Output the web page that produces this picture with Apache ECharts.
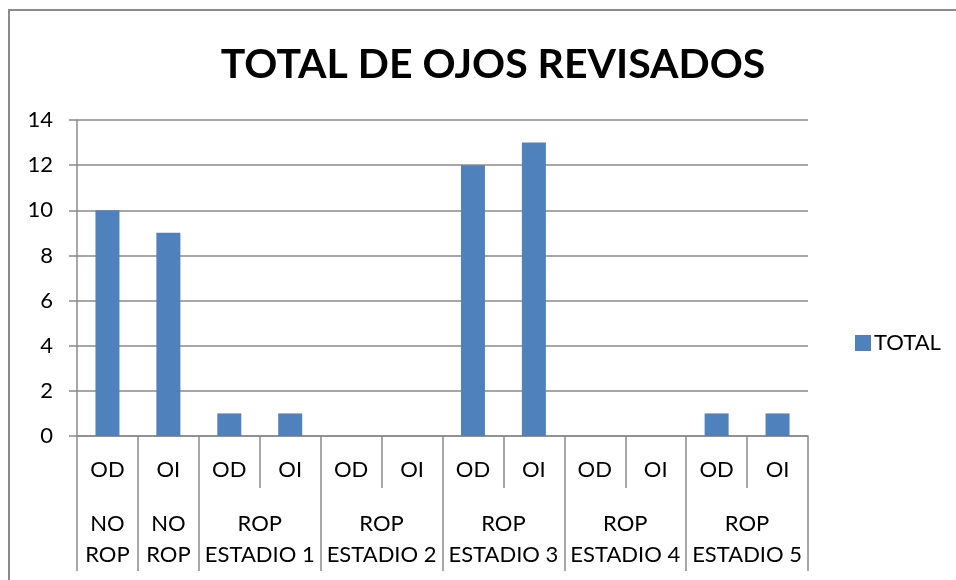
<!DOCTYPE html>
<html>
<head>
<meta charset="utf-8">
<title>TOTAL DE OJOS REVISADOS</title>
<script src="https://cdn.jsdelivr.net/npm/echarts@6/dist/echarts.min.js"></script>
<style>
    html, body { margin: 0; padding: 0; background: #fff; }
    #frame { position: absolute; left: 8px; top: 9px; width: 970px; height: 600px; border: 2px solid #8a8a8a; box-sizing: border-box; }
    #chart { position: absolute; left: 0; top: 0; width: 956px; height: 580px; }
</style>
</head>
<body>
<div id="frame"></div>
<div id="chart"></div>
<script>
// primer nivel del eje: ojo derecho / izquierdo
var eyeLabels = ['OD', 'OI', 'OD', 'OI', 'OD', 'OI', 'OD', 'OI', 'OD', 'OI', 'OD', 'OI'];
// segundo nivel del eje y cuantas columnas abarca cada grupo
var groupLabels = ['NO\nROP', 'NO\nROP', 'ROP\nESTADIO 1', 'ROP\nESTADIO 2', 'ROP\nESTADIO 3', 'ROP\nESTADIO 4', 'ROP\nESTADIO 5'];
var groupSpans = [1, 1, 2, 2, 2, 2, 2];
var totals = [10, 9, 1, 1, 0, 0, 12, 13, 0, 0, 1, 1];
var yMin = 0, yMax = 14, yStep = 2;

var gray = '#8a8a8a';
var font = 'Lato, "Open Sans", sans-serif';

// eje auxiliar en medias columnas para centrar los grupos
var halfSlots = [];
for (var i = 0; i <= eyeLabels.length * 2; i++) halfSlots.push('');
var groupEdges = {};
var pos = 0;
groupLabels.forEach(function (g, k) {
    groupEdges[pos * 2] = true;
    halfSlots[pos * 2 + groupSpans[k]] = g;
    pos += groupSpans[k];
});
groupEdges[pos * 2] = true;

var chart = echarts.init(document.getElementById('chart'));
window.addEventListener('resize', chart.resize);

chart.setOption({
    animation: false,
    title: {
        text: 'TOTAL DE OJOS REVISADOS',
        left: 488,
        textAlign: 'center',
        top: 39,
        textStyle: { fontFamily: font, fontWeight: 'bold', fontSize: 41, color: '#000' }
    },
    legend: {
        data: ['TOTAL'],
        orient: 'vertical',
        left: 850,
        top: 327,
        icon: 'rect',
        itemWidth: 16,
        itemHeight: 16,
        itemGap: 6,
        textStyle: { fontFamily: font, fontSize: 22, color: '#000', padding: [0, 0, 0, -2] }
    },
    grid: { left: 77, right: 148, top: 120, bottom: 144, containLabel: false },
    xAxis: [
        {
            type: 'category',
            data: eyeLabels,
            position: 'bottom',
            axisLine: { show: true, lineStyle: { color: gray, width: 1.5 } },
            axisTick: { show: true, interval: 0, length: 52, lineStyle: { color: gray, width: 1.5 } },
            axisLabel: { interval: 0, margin: 23, fontFamily: font, fontSize: 22, color: '#000' }
        },
        {
            type: 'category',
            data: halfSlots,
            position: 'bottom',
            boundaryGap: false,
            axisLine: { show: false },
            axisTick: {
                show: true,
                interval: function (idx) { return !!groupEdges[idx]; },
                length: 135,
                lineStyle: { color: gray, width: 1.5 }
            },
            axisLabel: { interval: 0, margin: 72, lineHeight: 31, fontFamily: font, fontSize: 22, color: '#000' }
        }
    ],
    yAxis: {
        type: 'value',
        min: yMin,
        max: yMax,
        interval: yStep,
        axisLine: { show: true, lineStyle: { color: gray, width: 1.5 } },
        axisTick: { show: true, length: 8, lineStyle: { color: gray, width: 1.5 } },
        splitLine: { lineStyle: { color: gray, width: 1.5 } },
        axisLabel: { margin: 24, fontFamily: font, fontSize: 22, color: '#000' }
    },
    series: [
        {
            name: 'TOTAL',
            type: 'bar',
            xAxisIndex: 0,
            data: totals,
            barWidth: 24,
            itemStyle: { color: '#4f81bd' }
        }
    ]
});
</script>
</body>
</html>
